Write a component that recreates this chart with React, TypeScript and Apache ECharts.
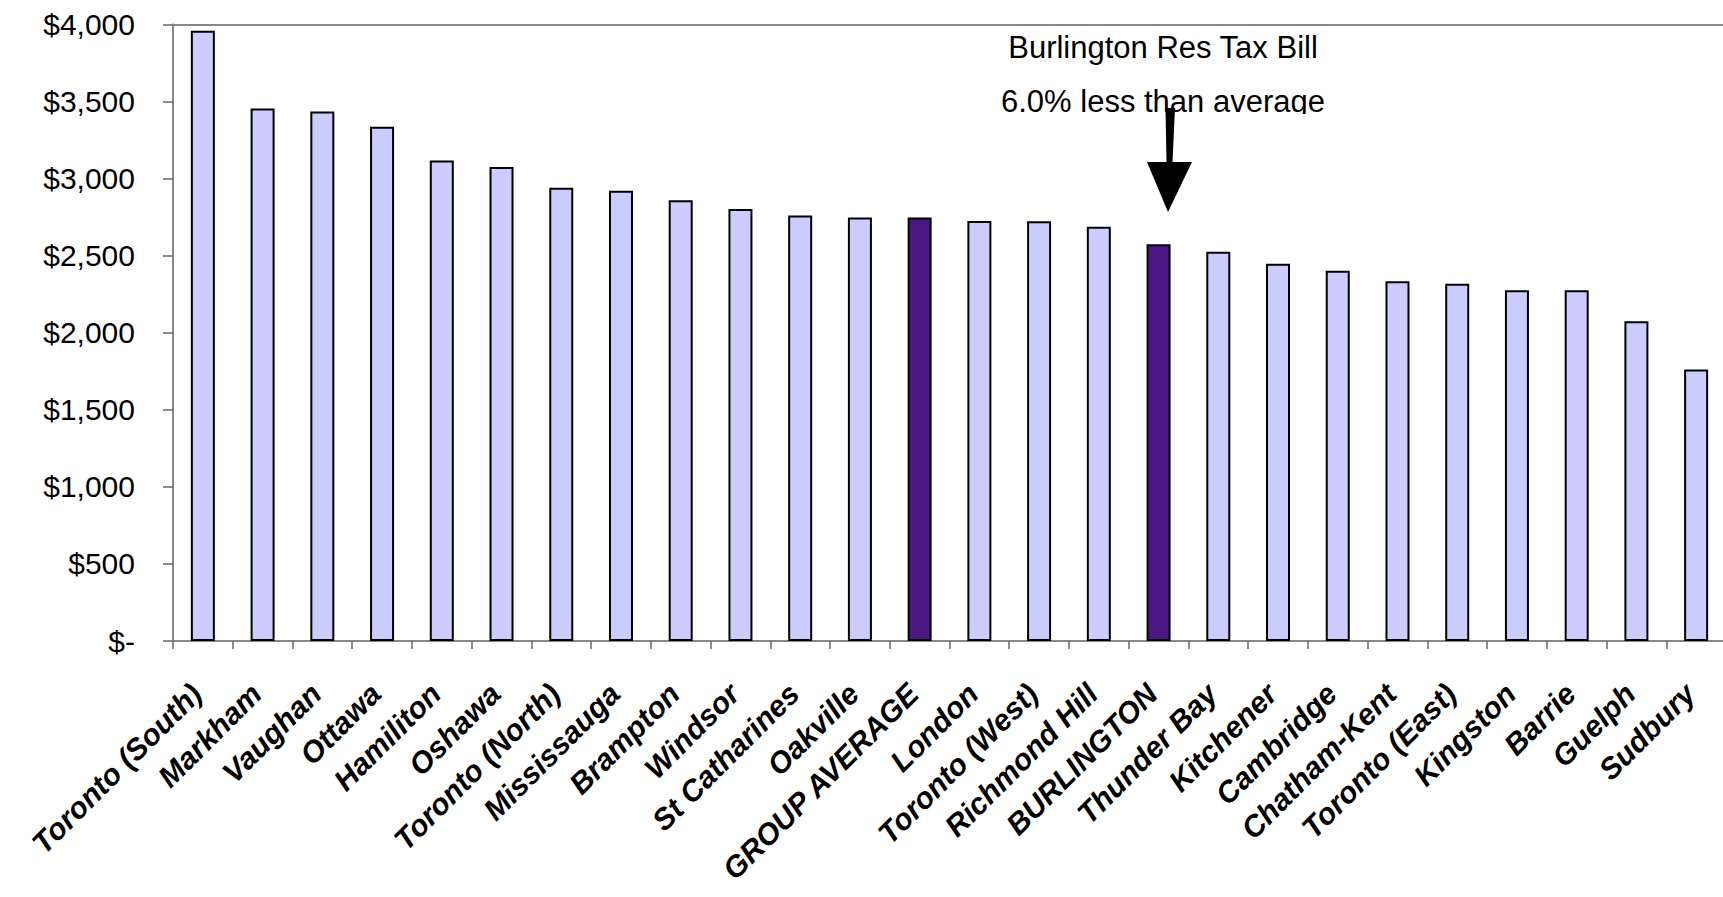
import React, { useEffect, useRef } from "react";
import * as echarts from "echarts";

const categories = [
  "Toronto (South)", "Markham", "Vaughan", "Ottawa", "Hamiliton", "Oshawa",
  "Toronto (North)", "Mississauga", "Brampton", "Windsor", "St Catharines",
  "Oakville", "GROUP AVERAGE", "London", "Toronto (West)", "Richmond Hill",
  "BURLINGTON", "Thunder Bay", "Kitchener", "Cambridge", "Chatham-Kent",
  "Toronto (East)", "Kingston", "Barrie", "Guelph", "Sudbury",
];
const taxBills = [
  3960, 3455, 3435, 3336, 3118, 3075, 2940, 2922, 2860, 2803, 2760, 2747,
  2747, 2725, 2724, 2688, 2575, 2525, 2447, 2403, 2334, 2318, 2276, 2276,
  2074, 1762,
];
const highlighted = ["GROUP AVERAGE", "BURLINGTON"];
const annotationLines = ["Burlington Res Tax Bill", "6.0% less than average"];

const Y_MIN = 0;
const Y_MAX = 4000;
const Y_STEP = 500;

export default function App() {
  const ref = useRef<HTMLDivElement>(null);
  useEffect(() => {
    if (!ref.current) return;
    const chart = echarts.init(ref.current, undefined, { renderer: "svg" });
    const nLines = (Y_MAX - Y_MIN) / Y_STEP + 1;
    const splitColors = Array.from({ length: nLines }, (_, i) =>
      i === nLines - 1 ? "#888888" : "rgba(0,0,0,0)"
    );
    chart.setOption({
      animation: false,
      backgroundColor: "#ffffff",
      grid: {
        left: 173,
        top: 24.5,
        width: 1553,
        height: 616.5,
        containLabel: false,
        outerBoundsMode: "none",
      },
      xAxis: {
        type: "category",
        data: categories,
        boundaryGap: true,
        axisLine: { show: true, lineStyle: { color: "#888888", width: 2 } },
        axisTick: { show: true, interval: 0, length: 8, lineStyle: { color: "#666666", width: 1.5 } },
        axisLabel: {
          interval: 0,
          rotate: 45,
          margin: 54,
          verticalAlign: "bottom",
          lineHeight: 18,
          fontFamily: "Liberation Sans, Arial, sans-serif",
          fontSize: 30,
          fontWeight: "bold",
          fontStyle: "italic",
          color: "#000000",
        },
        splitLine: { show: false },
      },
      yAxis: {
        type: "value",
        min: Y_MIN,
        max: Y_MAX,
        interval: Y_STEP,
        axisLine: { show: true, lineStyle: { color: "#888888", width: 2 } },
        axisTick: { show: true, length: 10, lineStyle: { color: "#666666", width: 1.5 } },
        axisLabel: {
          margin: 38,
          fontFamily: "Liberation Sans, Arial, sans-serif",
          fontSize: 30,
          color: "#000000",
          formatter: (v: number) =>
            v === 0 ? "$-" : "$" + v.toLocaleString("en-US"),
        },
        splitLine: { show: true, lineStyle: { color: splitColors, width: 2 } },
      },
      series: [
        {
          type: "bar",
          barWidth: 24,
          data: taxBills.map((v, i) => ({
            value: v,
            itemStyle: {
              color: highlighted.includes(categories[i]) ? "#4a1783" : "#ccccff",
              borderColor: "#000000",
              borderWidth: 2,
            },
          })),
        },
      ],
      graphic: [
        {
          type: "text",
          x: 1163,
          y: 47,
          style: {
            text: annotationLines[0],
            fontFamily: "Liberation Sans, Arial, sans-serif",
            fontSize: 31,
            fill: "#000000",
            align: "center",
            verticalAlign: "middle",
          },
        },
        {
          type: "text",
          x: 1163,
          y: 101,
          style: {
            text: annotationLines[1],
            fontFamily: "Liberation Sans, Arial, sans-serif",
            fontSize: 31,
            fill: "#000000",
            align: "center",
            verticalAlign: "middle",
          },
        },
        {
          type: "rect",
          shape: { x: 990, y: 114, width: 350, height: 12 },
          style: { fill: "#ffffff" },
        },
        {
          type: "polygon",
          shape: {
            points: [
              [1165.5, 108],
              [1175, 108],
              [1172.5, 162],
              [1166.5, 162],
            ],
          },
          style: { fill: "#000000" },
        },
        {
          type: "polygon",
          shape: {
            points: [
              [1147, 162],
              [1192, 162],
              [1168, 212],
            ],
          },
          style: { fill: "#000000" },
        },
      ],
    });
    return () => chart.dispose();
  }, []);
  return (
    <div
      ref={ref}
      style={{ position: "absolute", left: 0, top: 0, width: 1723, height: 897 }}
    />
  );
}
